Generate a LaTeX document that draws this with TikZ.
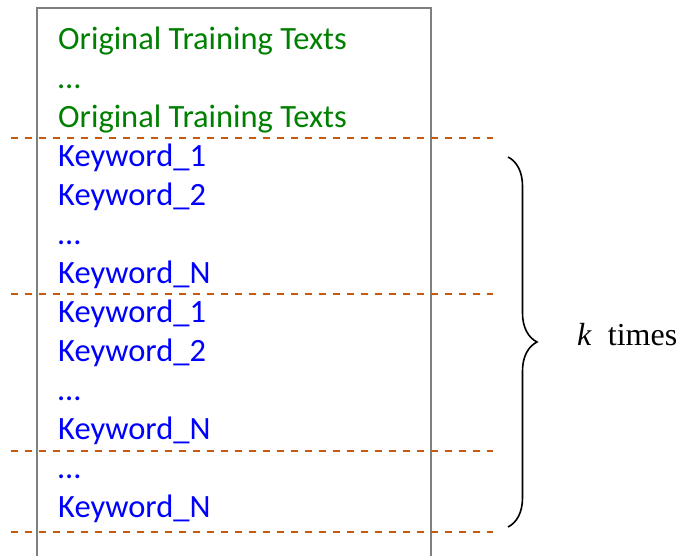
\documentclass[tikz,border=0pt]{standalone}
\usepackage{fontspec}
\setmainfont{Carlito}
\newfontfamily\timesfont{Liberation Serif}
\usetikzlibrary{decorations.pathreplacing}
\definecolor{orig}{RGB}{0,128,0}
\definecolor{kw}{RGB}{0,0,255}
\definecolor{sep}{RGB}{197,90,17}
\definecolor{frame}{RGB}{127,127,127}
\begin{document}
\begin{tikzpicture}[x=1pt,y=-1pt,
  line/.style={anchor=base west,inner sep=0pt,font=\fontsize{32.5}{32.5}\selectfont},
  origline/.style={line,text=orig},
  kwline/.style={line,text=kw},
  sepline/.style={draw=sep,line width=2.2pt,dash pattern=on 7.3pt off 6.7pt}]
\useasboundingbox (0,0) rectangle (678,556);
% open-bottom frame holding the text rows
\draw[frame,line width=2pt] (37,560) -- (37,8) -- (431,8) -- (431,560);
% text rows, 39 apart
\node[origline] (t1)  at (58,49.5)  {Original Training Texts};
\node[origline] (t2)  at (58,88.5)  {…};
\node[origline] (t3)  at (58,127.5) {Original Training Texts};
\node[kwline]   (t4)  at (58,166.5) {Keyword\_1};
\node[kwline]   (t5)  at (58,205.5) {Keyword\_2};
\node[kwline]   (t6)  at (58,244.5) {…};
\node[kwline]   (t7)  at (58,283.5) {Keyword\_N};
\node[kwline]   (t8)  at (58,322.5) {Keyword\_1};
\node[kwline]   (t9)  at (58,361.5) {Keyword\_2};
\node[kwline]   (t10) at (58,400.5) {…};
\node[kwline]   (t11) at (58,439.5) {Keyword\_N};
\node[kwline]   (t12) at (58,478.5) {…};
\node[kwline]   (t13) at (58,517.5) {Keyword\_N};
% dashed separators between the blocks
\foreach \y in {138.3,294.3,450.7,532.3}
  \draw[sepline] (10.7,\y) -- (492.7,\y);
% brace over the repeated keyword blocks
\coordinate (btop) at (508,157);
\coordinate (bbot) at (508,527);
\draw[line width=1.6pt,decorate,decoration={brace,amplitude=29pt,aspect=0.5}]
  (btop) -- (bbot);
\node[anchor=base west,inner sep=0pt,font=\timesfont\fontsize{32}{32}\selectfont]
  (ktimes) at (577,345) {\textit{k}\ \ times};
\end{tikzpicture}
\end{document}
